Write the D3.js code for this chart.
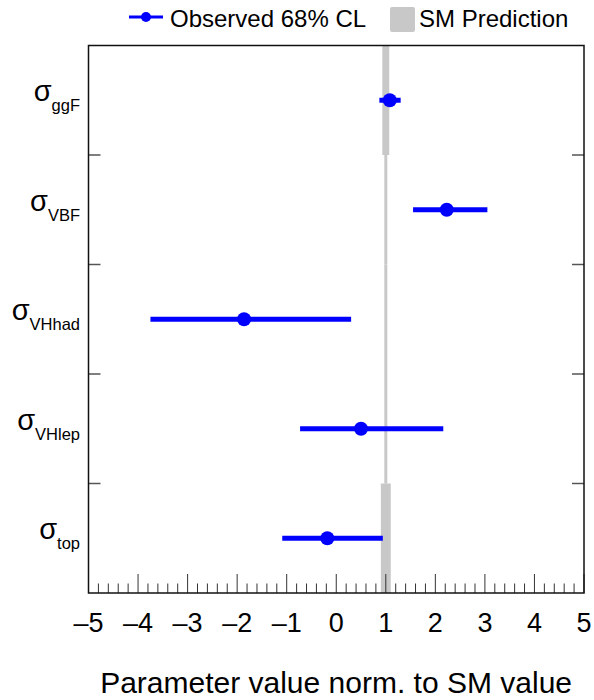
<!DOCTYPE html>
<html>
<head>
<meta charset="utf-8">
<script src="https://cdn.jsdelivr.net/npm/d3@7"></script>
<style>
  html, body { margin: 0; padding: 0; background: #fff; }
  svg { display: block; font-family: "Liberation Sans", Arial, Helvetica, sans-serif; }
</style>
</head>
<body>
<svg id="chart" width="594" height="700"></svg>
<script>
// ---- data ----
const categories = ["ggF", "VBF", "VHhad", "VHlep", "top"];
const observed = [1.08, 2.23, -1.86, 0.50, -0.18];
const lower68 = [0.87, 1.55, -3.75, -0.73, -1.09];
const upper68 = [1.30, 3.05, 0.30, 2.16, 0.94];
const smValue = [1, 1, 1, 1, 1];
const smUncertainty = [0.07, 0.03, 0.03, 0.03, 0.10];
const xTickValues = [-5, -4, -3, -2, -1, 0, 1, 2, 3, 4, 5];
const legendLabels = ["Observed 68% CL", "SM Prediction"];
const xTitle = "Parameter value norm. to SM value";

// ---- layout ----
const svg = d3.select("#chart");
const L = 88.5, R = 584, T = 45.5, B = 593;
const blue = "#0000ff", grey = "#c8c8c8";

const x = d3.scaleLinear().domain([-5, 5]).range([L, R]);
const y = d3.scaleBand().domain(categories).range([T, B]).paddingInner(0).paddingOuter(0);
const yc = c => y(c) + y.bandwidth() / 2;

// SM bands
svg.append("g").selectAll("rect").data(categories).join("rect")
  .attr("x", (c, i) => x(smValue[i] - smUncertainty[i]))
  .attr("width", (c, i) => x(smValue[i] + smUncertainty[i]) - x(smValue[i] - smUncertainty[i]))
  .attr("y", c => y(c))
  .attr("height", y.bandwidth())
  .attr("fill", grey);

// error bars
svg.append("g").selectAll("line").data(categories).join("line")
  .attr("x1", (c, i) => x(lower68[i]))
  .attr("x2", (c, i) => x(upper68[i]))
  .attr("y1", c => yc(c))
  .attr("y2", c => yc(c))
  .attr("stroke", blue)
  .attr("stroke-width", 5);

svg.append("g").selectAll("circle").data(categories).join("circle")
  .attr("cx", (c, i) => x(observed[i]))
  .attr("cy", c => yc(c))
  .attr("r", 7)
  .attr("fill", blue);

// x axis ticks (inside, pointing up)
const minorTicks = d3.range(-5, 5.0001, 0.2).map(v => Math.round(v * 10) / 10);
const axisG = svg.append("g");
axisG.selectAll("line.minor").data(minorTicks.filter(v => !xTickValues.includes(v))).join("line")
  .attr("class", "minor")
  .attr("x1", d => x(d)).attr("x2", d => x(d))
  .attr("y1", B).attr("y2", B - 9.5)
  .attr("stroke", "#333").attr("stroke-width", 1);
axisG.selectAll("line.major").data(xTickValues).join("line")
  .attr("class", "major")
  .attr("x1", d => x(d)).attr("x2", d => x(d))
  .attr("y1", B).attr("y2", B - 19)
  .attr("stroke", "#333").attr("stroke-width", 1);
axisG.selectAll("text").data(xTickValues).join("text")
  .attr("x", d => x(d))
  .attr("y", 631.5)
  .attr("text-anchor", "middle")
  .attr("font-size", 27)
  .attr("fill", "#000")
  .text(d => (d < 0 ? "\u2013" + Math.abs(d) : String(d)));

// y boundary ticks (left and right)
const bounds = categories.slice(1).map(c => y(c));
svg.append("g").selectAll("line").data(bounds).join("line")
  .attr("x1", L).attr("x2", L + 12)
  .attr("y1", d => d).attr("y2", d => d)
  .attr("stroke", "#555").attr("stroke-width", 1.5);
svg.append("g").selectAll("line").data(bounds).join("line")
  .attr("x1", R - 12).attr("x2", R)
  .attr("y1", d => d).attr("y2", d => d)
  .attr("stroke", "#555").attr("stroke-width", 1.5);

// frame
svg.append("rect")
  .attr("x", L).attr("y", T).attr("width", R - L).attr("height", B - T)
  .attr("fill", "none").attr("stroke", "#111").attr("stroke-width", 1.5);

// y labels
const yl = svg.append("g").selectAll("text").data(categories).join("text")
  .attr("x", 80)
  .attr("y", c => yc(c) + 1)
  .attr("text-anchor", "end")
  .attr("fill", "#000");
yl.append("tspan").attr("font-size", 29).text("\u03c3");
yl.append("tspan").attr("font-size", 16.5).attr("dy", 10).text(c => c);

// x title
svg.append("text")
  .attr("x", 572).attr("y", 693)
  .attr("text-anchor", "end")
  .attr("font-size", 30)
  .attr("fill", "#000")
  .text(xTitle);

// legend
const lg = svg.append("g");
lg.append("line").attr("x1", 129).attr("x2", 163).attr("y1", 17).attr("y2", 17)
  .attr("stroke", blue).attr("stroke-width", 3);
lg.append("circle").attr("cx", 146).attr("cy", 17).attr("r", 5).attr("fill", blue);
lg.append("text").attr("x", 170).attr("y", 27).attr("font-size", 24).attr("fill", "#000").text(legendLabels[0]);
lg.append("rect").attr("x", 390).attr("y", 7).attr("width", 25).attr("height", 25).attr("rx", 2)
  .attr("fill", grey);
lg.append("text").attr("x", 419).attr("y", 27).attr("font-size", 24).attr("fill", "#000").text(legendLabels[1]);
</script>
</body>
</html>
